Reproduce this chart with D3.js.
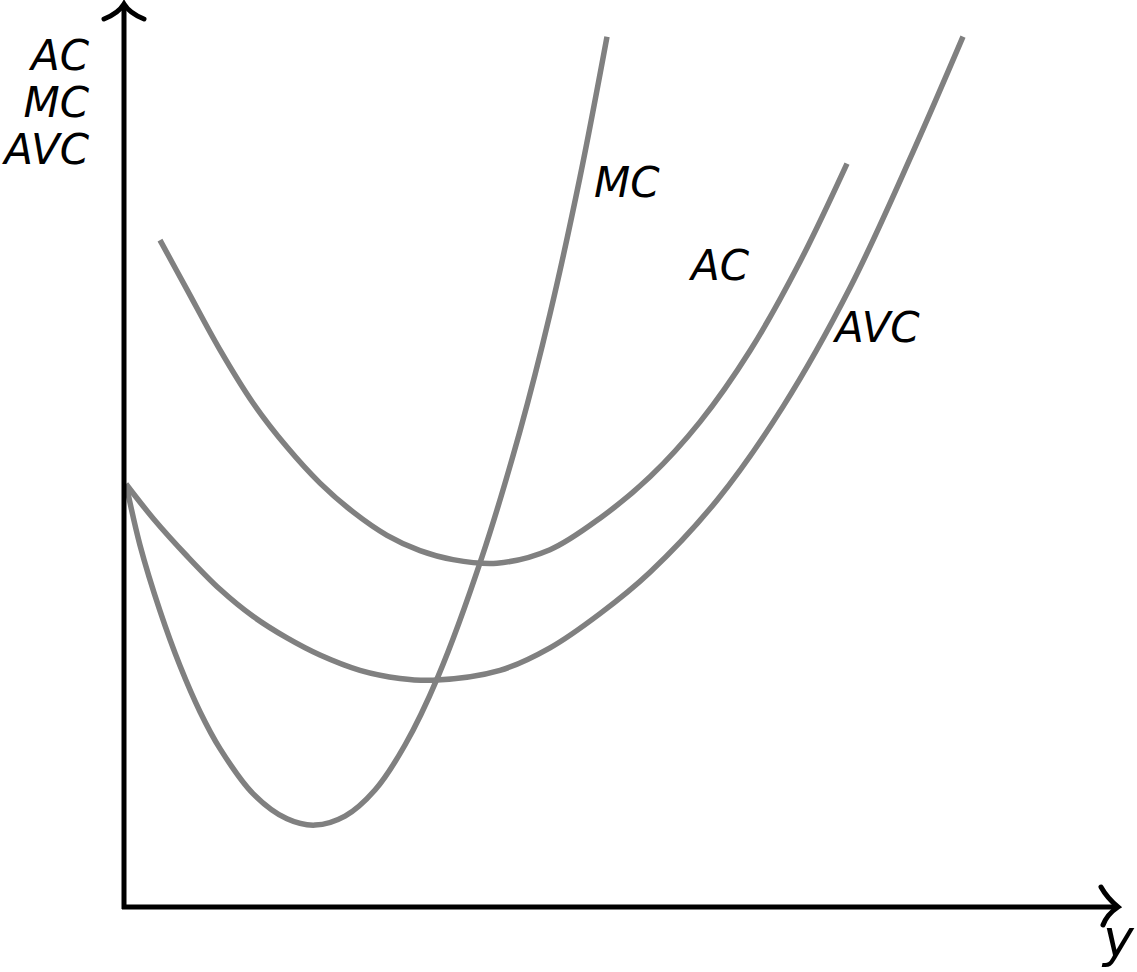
<!DOCTYPE html>
<html>
<head>
<meta charset="utf-8">
<script src="https://cdn.jsdelivr.net/npm/d3@7"></script>
<style>
  body { margin: 0; background: #fff; }
  svg text { font-family: "DejaVu Sans", sans-serif; font-style: oblique; fill: #000; }
</style>
</head>
<body>
<svg width="1137" height="972"></svg>
<script>
// curve points, [quantity, cost]
var mcPoints = [[0.02,4.70],[0.16,4.02],[0.36,3.29],[0.56,2.68],[0.76,2.17],[0.96,1.76],
  [1.29,1.26],[1.63,0.98],[1.91,0.91],[2.21,1.01],[2.51,1.30],[2.81,1.80],[3.14,2.56],
  [3.58,3.89],[3.96,5.29],[4.26,6.59],[4.56,8.11],[4.83,9.67]];
var acPoints = [[0.36,7.41],[0.63,6.86],[0.96,6.19],[1.29,5.60],[1.63,5.11],[1.96,4.71],
  [2.29,4.39],[2.63,4.13],[2.96,3.96],[3.29,3.86],[3.73,3.82],[4.26,3.97],[4.76,4.32],
  [5.26,4.78],[5.76,5.39],[6.26,6.18],[6.76,7.17],[7.23,8.26]];
var avcPoints = [[0.02,4.70],[0.29,4.32],[0.63,3.90],[0.96,3.53],[1.29,3.23],[1.63,2.99],
  [1.96,2.80],[2.36,2.63],[2.76,2.54],[3.09,2.52],[3.76,2.63],[4.26,2.88],[4.76,3.26],
  [5.26,3.72],[5.93,4.52],[6.59,5.56],[7.26,6.88],[7.89,8.39],[8.39,9.67]];

var curveNames = ["MC", "AC", "AVC"];
var yAxisLabels = ["AC", "MC", "AVC"];
var xAxisLabel = "y";
// where each curve name sits, in data units
var curveLabelPos = [[4.70, 7.89], [5.67, 6.97], [7.11, 6.28]];

var svg = d3.select("svg");

var x = d3.scaleLinear().domain([0, 10]).range([124, 1124]);
var y = d3.scaleLinear().domain([0, 10]).range([907, 7]);

var line = d3.line()
    .x(function (d) { return x(d[0]); })
    .y(function (d) { return y(d[1]); })
    .curve(d3.curveCatmullRom.alpha(0.5));

svg.append("g")
    .attr("class", "curves")
    .selectAll("path")
    .data([mcPoints, acPoints, avcPoints])
    .enter().append("path")
    .attr("d", line)
    .attr("fill", "none")
    .attr("stroke", "#808080")
    .attr("stroke-width", 5.5);

// axes
var axes = svg.append("g").attr("fill", "none").attr("stroke", "#000").attr("stroke-width", 5);
axes.append("line").attr("x1", x(0)).attr("y1", y(0) + 2).attr("x2", x(0)).attr("y2", 5);
axes.append("line").attr("x1", x(0) - 2).attr("y1", y(0)).attr("x2", 1116).attr("y2", y(0));
axes.append("path")
    .attr("stroke-linecap", "round")
    .attr("d", "M104,19 C114,15 121,9 124,4 C127,9 134,15 144,19");
axes.append("path")
    .attr("stroke-linecap", "round")
    .attr("d", "M1101,887 C1106,896 1112,902 1118,907 C1112,911 1106,917 1103,925");

svg.append("g")
    .selectAll("text")
    .data(yAxisLabels)
    .enter().append("text")
    .attr("x", 89)
    .attr("y", function (d, i) { return 70 + i * 47; })
    .attr("text-anchor", "end")
    .attr("font-size", 42)
    .text(function (d) { return d; });

svg.append("text")
    .attr("x", 1103)
    .attr("y", 956)
    .attr("font-size", 52)
    .text(xAxisLabel);

svg.append("g")
    .selectAll("text")
    .data(curveNames)
    .enter().append("text")
    .attr("x", function (d, i) { return x(curveLabelPos[i][0]); })
    .attr("y", function (d, i) { return y(curveLabelPos[i][1]); })
    .attr("font-size", 42)
    .text(function (d) { return d; });
</script>
</body>
</html>
